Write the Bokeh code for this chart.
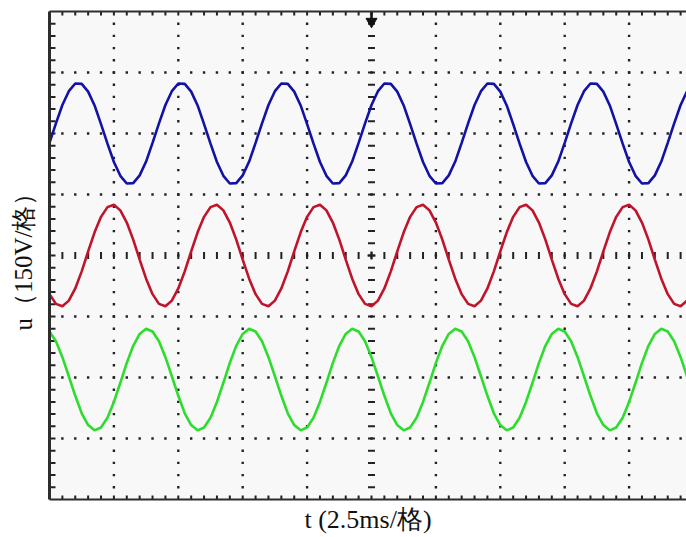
import math
from bokeh.plotting import figure
from bokeh.models import FixedTicker, LinearAxis, Range1d
from bokeh.embed import file_html
from bokeh.resources import INLINE

# ---------------- data ----------------
# time axis: 2.5 ms per division, sampled every 0.25 ms
t_step_ms = 0.25
n_samples = 101
time_ms = [i * t_step_ms for i in range(n_samples)]

# phase voltages in volts (150 V per division)
u_a = [277, 325, 370, 404, 423, 422, 403, 369, 323, 275, 230, 196, 177, 178, 197, 231,
       277, 325, 370, 404, 423, 422, 403, 369, 323, 275, 230, 196, 177, 178, 197, 231,
       277, 325, 370, 404, 423, 422, 403, 369, 323, 275, 230, 196, 177, 178, 197, 231,
       277, 325, 370, 404, 423, 422, 403, 369, 323, 275, 230, 196, 177, 178, 197, 231,
       277, 325, 370, 404, 423, 422, 403, 369, 323, 275, 230, 196, 177, 178, 197, 231,
       277, 325, 370, 404, 423, 422, 403, 369, 323, 275, 230, 196, 177, 178, 197, 231,
       277, 325, 370, 404, 423]
u_b = [-95, -119, -125, -111, -81, -39, 10, 57, 95, 119, 125, 111, 81, 39, -10, -57,
       -95, -119, -125, -111, -81, -39, 10, 57, 95, 119, 125, 111, 81, 39, -10, -57,
       -95, -119, -125, -111, -81, -39, 10, 57, 95, 119, 125, 111, 81, 39, -10, -57,
       -95, -119, -125, -111, -81, -39, 10, 57, 95, 119, 125, 111, 81, 39, -10, -57,
       -95, -119, -125, -111, -81, -39, 10, 57, 95, 119, 125, 111, 81, 39, -10, -57,
       -95, -119, -125, -111, -81, -39, 10, 57, 95, 119, 125, 111, 81, 39, -10, -57,
       -95, -119, -125, -111, -81]
u_c = [-187, -211, -250, -297, -345, -388, -417, -430, -423, -399, -360, -313, -264, -222, -193, -180,
       -187, -211, -250, -297, -345, -388, -417, -430, -423, -399, -360, -313, -264, -222, -193, -180,
       -187, -211, -250, -297, -345, -388, -417, -430, -423, -399, -360, -313, -264, -222, -193, -180,
       -187, -211, -250, -297, -345, -388, -417, -430, -423, -399, -360, -313, -264, -222, -193, -180,
       -187, -211, -250, -297, -345, -388, -417, -430, -423, -399, -360, -313, -264, -222, -193, -180,
       -187, -211, -250, -297, -345, -388, -417, -430, -423, -399, -360, -313, -264, -222, -193, -180,
       -187, -211, -250, -297, -345]

series_colors = ["#1212a6", "#c0142a", "#2edc2e"]

# graticule: divisions and sub-divisions
t_div_ms = 2.5
v_div = 150
n_xdiv = 10
n_ydiv = 8
n_sub = 5

x_label = "t (2.5ms/格)"
y_label = "u（150V/格）"

# ---------------- figure ----------------
W, H = 686, 537
left_px, top_px, bottom_px = 49, 11, 38
frame_w = W - left_px                  # right edge of the screen cuts the 10th division
frame_h = H - top_px - bottom_px
px_per_xdiv = 64.4
x_end = frame_w / px_per_xdiv * t_div_ms
y_half = v_div * n_ydiv / 2
ms_per_px = t_div_ms / px_per_xdiv
v_per_px = v_div * n_ydiv / frame_h

p = figure(width=W, height=H, x_range=Range1d(0, x_end), y_range=Range1d(-y_half, y_half),
           output_backend="svg", toolbar_location=None,
           min_border_left=left_px, min_border_right=0, min_border_top=top_px,
           min_border_bottom=bottom_px,
           background_fill_color="#f8f8f8", border_fill_color="white",
           outline_line_color=None)
p.xgrid.visible = False
p.ygrid.visible = False

frame_col = "#2d2d2d"
mark_col = "#222222"
sub_t = t_div_ms / n_sub
sub_v = v_div / n_sub
xt = [i * sub_t for i in range(0, n_xdiv * n_sub + 1)]
yt = [j * sub_v for j in range(-n_ydiv * n_sub // 2, n_ydiv * n_sub // 2 + 1)]
inner_t = [v for v in xt if 0 < v < x_end]
inner_v = [v for v in yt if -y_half < v < y_half]

xa = p.xaxis[0]
ya = p.yaxis[0]
top = LinearAxis()
p.add_layout(top, "above")

for ax, w in ((xa, 2), (ya, 3), (top, 2)):
    ax.ticker = FixedTicker(ticks=[], minor_ticks=[])
    ax.major_tick_in = 0
    ax.major_tick_out = 0
    ax.major_tick_line_color = None
    ax.minor_tick_line_color = None
    ax.major_label_standoff = 0
    ax.axis_line_color = frame_col
    ax.axis_line_width = w

xa.axis_label = x_label
xa.axis_label_text_font = "Liberation Serif"
xa.axis_label_text_font_size = "26px"
xa.axis_label_text_font_style = "normal"
xa.axis_label_text_color = "#111111"
xa.axis_label_standoff = 5

ya.axis_label = y_label
ya.axis_label_text_font = "Liberation Serif"
ya.axis_label_text_font_size = "25px"
ya.axis_label_text_font_style = "normal"
ya.axis_label_text_color = "#111111"
ya.axis_label_standoff = 13

# sub-division ticks on the frame (pointing inward)
tick_l = 6 * ms_per_px
tick_tb = 4 * v_per_px
p.segment([0] * len(inner_v), inner_v, [tick_l] * len(inner_v), inner_v,
          line_width=2, line_color=mark_col)
p.segment(inner_t, [y_half] * len(inner_t), inner_t, [y_half - tick_tb] * len(inner_t),
          line_width=2, line_color=mark_col)
p.segment(inner_t, [-y_half] * len(inner_t), inner_t, [-y_half + tick_tb] * len(inner_t),
          line_width=2, line_color=mark_col)

# dotted graticule lines
grid_t = [k * t_div_ms for k in range(1, n_xdiv) if k != n_xdiv // 2]
grid_v = [m * v_div for m in range(-n_ydiv // 2 + 1, n_ydiv // 2) if m != 0]

dx, dy = [], []
for gt in grid_t:
    for v in inner_v:
        dx.append(gt)
        dy.append(v)
for gv in grid_v:
    for t in inner_t:
        dx.append(t)
        dy.append(gv)
p.scatter(dx, dy, marker="square", size=2.4, fill_color=mark_col, line_color=None)

# centre graticule with sub-division marks
tc = n_xdiv // 2 * t_div_ms
p.scatter([tc] * len(inner_v), inner_v, marker="dash", size=7, line_width=2, line_color=mark_col)
p.scatter(inner_t, [0] * len(inner_t), marker="dash", angle=math.pi / 2, size=7, line_width=2,
          line_color=mark_col)
p.scatter([tc], [0], marker="cross", size=8, line_width=2, line_color=mark_col)

# trigger position marker at the top
trig_v = y_half - 10 * v_per_px
p.segment([tc], [y_half], [tc], [trig_v], line_width=2.5, line_color="#111111")
p.scatter([tc], [trig_v], marker="inverted_triangle", size=11, fill_color="#111111",
          line_color="#111111")

# waveforms
for vals, col in zip((u_a, u_b, u_c), series_colors):
    p.line(time_ms, vals, line_color=col, line_width=2.6)

open("out.html", "w").write(file_html(p, INLINE))
